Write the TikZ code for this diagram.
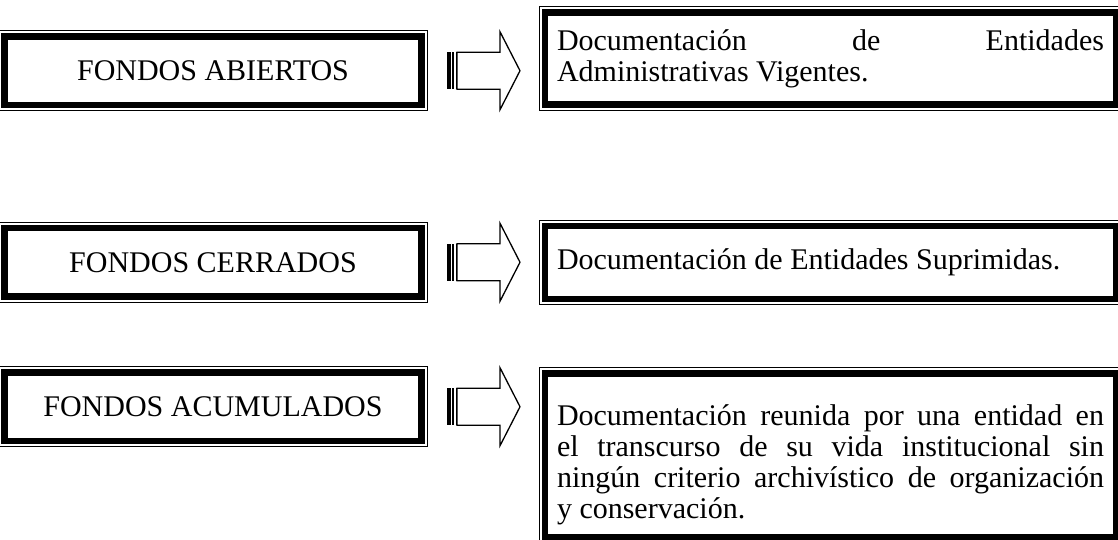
\documentclass[tikz,border=0pt]{standalone}
\usepackage{fontspec}
\setmainfont{Liberation Serif}
\usetikzlibrary{calc}

\hyphenpenalty=10000

\tikzset{
  fondo/.style={draw, line width=6.5pt, minimum width=417pt, minimum height=68.5pt,
    inner sep=0pt, outer sep=0pt, font=\fontsize{30}{31}\selectfont},
  descr/.style={draw, line width=6.5pt, text width=547pt, inner xsep=12pt, inner ysep=0pt,
    minimum width=571pt, minimum height=#1, outer sep=0pt, align=justify,
    font=\fontsize{30}{31}\selectfont},
  rim/.style={line width=1.2pt},
  flecha/.style={draw, line width=1.3pt, fill=white, line join=miter},
}

% striped block arrow leaving the east side of a node
\newcommand{\flecha}[1]{%
  \begin{scope}[shift={(#1.east)}]
    \fill (25.5,-18.5) rectangle (29,18.5);
    \fill (30.8,-18.5) rectangle (32.1,18.5);
    \fill (34.3,-18.5) rectangle (36.8,18.5);
    \draw[flecha] (35.5,18.5) -- (78.5,18.5) -- (78.5,39) -- (98.5,0)
      -- (78.5,-39) -- (78.5,-18.5) -- (35.5,-18.5) -- cycle;
  \end{scope}}

\begin{document}
\begin{tikzpicture}[x=1pt, y=1pt]
  \useasboundingbox (0,0) rectangle (1118,540);

  % left column
  \node[fondo] (abiertos) at (213,469.25) {FONDOS ABIERTOS};
  \node[fondo] (cerrados) at (213,277.75) {FONDOS CERRADOS};
  \node[fondo] (acumulados) at (213,133.25) {FONDOS ACUMULADOS};

  % right column
  \node[descr=92pt] (dabiertos) at (830.5,481.5)
    {\rightskip=11pt Documentación de Entidades\linebreak Administrativas Vigentes.};
  \node[descr=73pt] (dcerrados) at (830.5,277.5)
    {\rightskip=11pt Documentación de Entidades Suprimidas.};
  \node[descr=163.5pt] (dacumulados) at (830.5,84.75)
    {\rightskip=11pt \rule{0pt}{39pt}Documentación reunida por una entidad en\linebreak
     el transcurso de su vida institucional sin\linebreak
     ningún criterio archivístico de organización\linebreak y conservación.};

  % thin outer rims
  \foreach \n in {abiertos,cerrados,acumulados,dabiertos,dcerrados,dacumulados}
    \draw[rim] ([shift={(-5.65,-5.65)}]\n.south west) rectangle ([shift={(5.65,5.65)}]\n.north east);

  % arrows
  \flecha{abiertos}
  \flecha{cerrados}
  \flecha{acumulados}
\end{tikzpicture}
\end{document}
